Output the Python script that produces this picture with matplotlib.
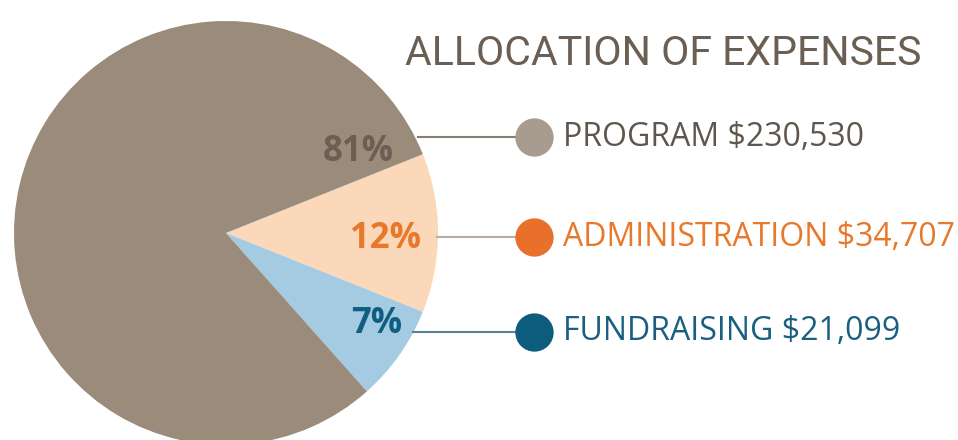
import matplotlib
matplotlib.use("Agg")
import matplotlib.pyplot as plt

categories = ["ADMINISTRATION", "FUNDRAISING", "PROGRAM"]
amounts = [34707, 21099, 230530]
pct_labels = ["12%", "7%", "81%"]
legend_labels = ["PROGRAM $230,530", "ADMINISTRATION $34,707", "FUNDRAISING $21,099"]
title = "ALLOCATION OF EXPENSES"

slice_colors = ["#fbd8b9", "#a5cbe3", "#9a8b7b"]
text_colors = {"PROGRAM": "#6b5e52", "ADMINISTRATION": "#e8782a", "FUNDRAISING": "#0f5f82"}
dot_colors = {"PROGRAM": "#a89c90", "ADMINISTRATION": "#e8702a", "FUNDRAISING": "#0d5c7e"}
legend_text_colors = {"PROGRAM": "#5f564e", "ADMINISTRATION": "#e8782a", "FUNDRAISING": "#1a5f80"}

W, H = 958, 440
fig = plt.figure(figsize=(W / 100, H / 100), dpi=100)
ax = fig.add_axes([0, 0, 1, 1])

def Y(y):
    return H - y

total = sum(amounts)
admin_angle = 360 * amounts[0] / total
start = admin_angle / 2

cx, cy, r = 226, Y(233), 212
ax.pie(amounts, colors=slice_colors, startangle=start, counterclock=False,
       center=(cx, cy), radius=r, frame=True,
       wedgeprops=dict(linewidth=0))
ax.set_xlim(0, W)
ax.set_ylim(0, H)
ax.set_aspect("equal")
ax.axis("off")

# percentage labels
pct_pos = {"PROGRAM": (358, 152), "ADMINISTRATION": (386, 239), "FUNDRAISING": (377, 324)}
for cat, lab in zip(categories, pct_labels):
    x, y = pct_pos[cat]
    ax.text(x, Y(y), lab, ha="center", va="center", fontsize=25, fontweight="bold",
            family="Open Sans", color=text_colors[cat])

# leader lines, dots and legend text
rows = {"PROGRAM": (418, 137), "ADMINISTRATION": (437, 237), "FUNDRAISING": (413, 332)}
line_colors = {"PROGRAM": "#8a7f75", "ADMINISTRATION": "#b8aea5", "FUNDRAISING": "#5a7f90"}
for lab in legend_labels:
    cat = lab.split(" ")[0]
    x0, y = rows[cat]
    ax.plot([x0, 530], [Y(y), Y(y)], color=line_colors[cat], lw=1.5, zorder=3)
    ax.scatter([534], [Y(y)], s=760, color=dot_colors[cat], zorder=4, linewidths=0)
    ax.text(563, Y(y), lab, ha="left", va="center", fontsize=23, family="Open Sans",
            color=legend_text_colors[cat])

ax.text(405, Y(53), title, ha="left", va="center", fontsize=29.5, family="Roboto",
        color="#6b5e52")

fig.savefig("out.png", dpi=100)
